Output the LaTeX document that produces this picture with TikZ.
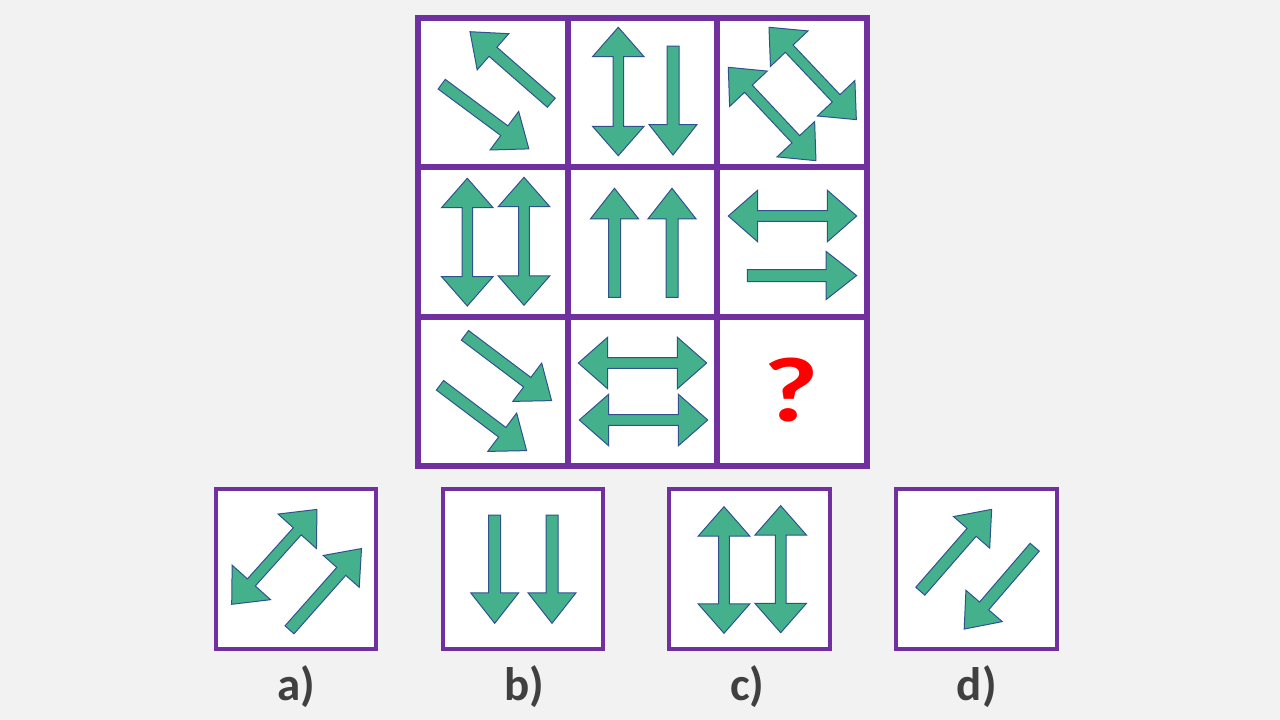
\documentclass[tikz,border=0pt]{standalone}
\usepackage{fontspec}
\setmainfont{Carlito}
\definecolor{bgc}{HTML}{F2F2F2}
\definecolor{frame}{HTML}{7030A0}
\definecolor{arrgreen}{HTML}{45B08C}
\definecolor{arrblue}{HTML}{2F528F}
\definecolor{lbl}{HTML}{404040}
\newcommand\SArr[4]{%
  \pgfmathsetmacro\qdx{#3-#1}\pgfmathsetmacro\qdy{#4-#2}%
  \pgfmathsetmacro\qang{atan2(-\qdy,\qdx)}%
  \pgfmathsetmacro\qlen{veclen(\qdx,\qdy)}%
  \pgfmathsetmacro\qhb{\qlen-30.5}%
  \draw[arr, shift={(#1,#2)}, rotate=\qang] (0,-6) -- (\qhb,-6) -- (\qhb,-24) -- (\qlen,0) -- (\qhb,24) -- (\qhb,6) -- (0,6) -- cycle;}
\newcommand\DArr[4]{%
  \pgfmathsetmacro\qdx{#3-#1}\pgfmathsetmacro\qdy{#4-#2}%
  \pgfmathsetmacro\qang{atan2(-\qdy,\qdx)}%
  \pgfmathsetmacro\qlen{veclen(\qdx,\qdy)}%
  \pgfmathsetmacro\qhb{\qlen-29.4}%
  \draw[arr, shift={(#1,#2)}, rotate=\qang] (29.4,-5.3) -- (\qhb,-5.3) -- (\qhb,-25.8) -- (\qlen,0) -- (\qhb,25.8) -- (\qhb,5.3) -- (29.4,5.3) -- (29.4,25.8) -- (0,0) -- (29.4,-25.8) -- cycle;}
\begin{document}
\begin{tikzpicture}[x=1pt,y=-1pt,
  arr/.style={fill=arrgreen, draw=arrblue, line width=1pt, line join=miter},
  abox/.style={fill=white, draw=frame, line width=4pt},
  lab/.style={text=lbl, font=\fontsize{47}{50}\selectfont\bfseries, anchor=base, inner sep=0pt}]
\useasboundingbox (0,0) rectangle (1280,720);
\fill[bgc] (0,0) rectangle (1280,720);
% grid cells
\foreach \xa/\xb in {418/568,568/717,717/867}
  \foreach \ya/\yb in {18/167,167/317,317/466}
    \fill[white] (\xa,\ya) rectangle (\xb,\yb);
\foreach \xa/\xb in {418/568,568/717,717/867}
  \foreach \ya/\yb in {18/167,167/317,317/466}
    \draw[draw=frame, line width=6pt] (\xa,\ya) rectangle (\xb,\yb);
% answer boxes
\draw[abox] (216,489) rectangle (376,649);
\draw[abox] (443,489) rectangle (603,649);
\draw[abox] (669,489) rectangle (830,649);
\draw[abox] (896,489) rectangle (1057,649);
% row 1
\SArr{551.3}{102.7}{470}{31.7}
\SArr{441.7}{84.2}{529}{149}
\DArr{618.3}{155.7}{618.3}{27.3}
\SArr{673}{46}{673}{155}
\DArr{769}{27.3}{856.7}{120}
\DArr{728.3}{67.3}{816}{160.7}
% row 2
\DArr{467.3}{306}{467.3}{178.3}
\DArr{524}{305.3}{524}{177.3}
\SArr{614.5}{297.3}{614.5}{188.3}
\SArr{672}{297.3}{672}{188.3}
\DArr{728.3}{216}{856.7}{216}
\SArr{747.3}{275.5}{856.7}{275.5}
% row 3
\SArr{465}{335.3}{551.7}{400.7}
\SArr{440}{385.3}{526.7}{450.7}
\DArr{578.3}{363}{706.7}{363}
\DArr{579.3}{420}{707.7}{420}
\node[text=red, font=\fontsize{92}{92}\selectfont\bfseries, anchor=base, inner sep=0pt] (q) at (791.7,421.7) {\scalebox{1.3}[1]{?}};
% answers
\DArr{231.7}{604.3}{317.3}{509}
\SArr{289.5}{629.8}{361.7}{548.3}
\SArr{494.7}{515}{494.7}{623.3}
\SArr{552}{515}{552}{623.3}
\DArr{724}{633.3}{724}{506.7}
\DArr{780.7}{632.7}{780.7}{505.7}
\SArr{920.3}{591.2}{991.7}{509.3}
\SArr{1034.7}{547.2}{964}{629.3}
% labels
\node[lab] (la) at (296,700.7) {a)};
\node[lab] (lb) at (524.5,700.7) {b)};
\node[lab] (lc) at (747.5,700.7) {c)};
\node[lab] (ld) at (976.7,700.7) {d)};
\end{tikzpicture}
\end{document}
